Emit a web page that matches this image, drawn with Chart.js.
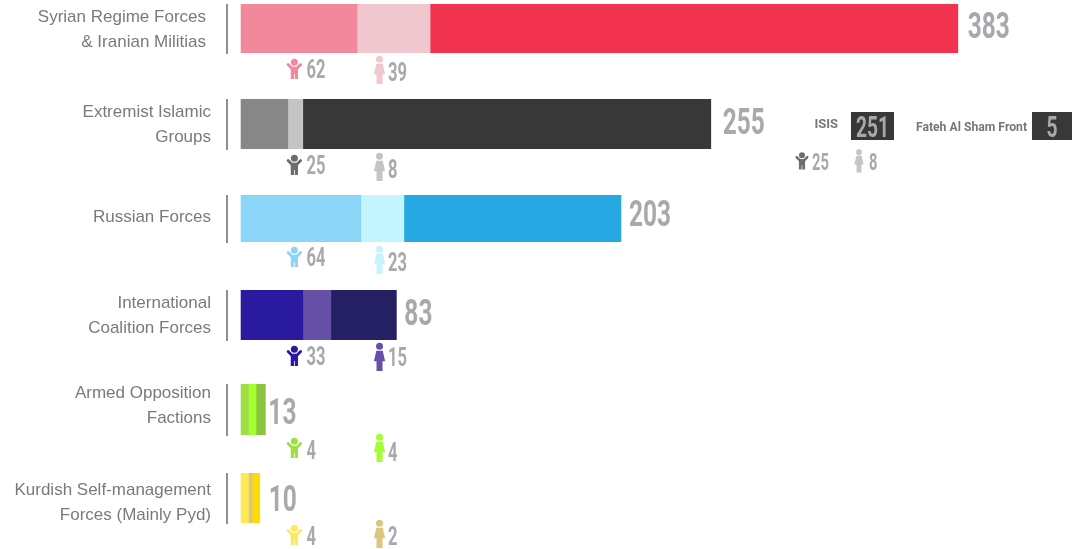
<!DOCTYPE html>
<html>
<head>
<meta charset="utf-8">
<script src="https://cdn.jsdelivr.net/npm/chart.js@4"></script>
<style>
    html, body { margin: 0; padding: 0; background: #fff; width: 1072px; height: 549px; overflow: hidden; }
    canvas { position: absolute; left: 0; display: block; }
</style>
</head>
<body>
<script>
// Data
const categories = [
    ['Syrian Regime Forces', '& Iranian Militias'],
    ['Extremist Islamic', 'Groups'],
    ['Russian Forces'],
    ['International', 'Coalition Forces'],
    ['Armed Opposition', 'Factions'],
    ['Kurdish Self-management', 'Forces (Mainly Pyd)']
];
const childCounts = [62, 25, 64, 33, 4, 4];
const femaleCounts = [39, 8, 23, 15, 4, 2];
const otherCounts = [282, 218, 116, 35, 5, 4];
const totals = [383, 255, 203, 83, 13, 10];
const breakdownNames = ['ISIS', 'Fateh Al Sham Front'];
const breakdownValues = [251, 5];

// Colours per row
const childColors = ['#f2889b', '#878787', '#8bd5f9', '#2a1aa0', '#9fdf45', '#ffea55'];
const femaleColors = ['#f0c6cf', '#c4c4c4', '#c4f5ff', '#6650a8', '#a3ff2d', '#dcc67f'];
const otherColors = ['#f1334f', '#383838', '#26a9e3', '#251f63', '#8cc43f', '#ffdc00'];
const childIconColors = ['#f2889b', '#6d6d6d', '#8bd5f9', '#2a1aa0', '#9fdf45', '#ffea55'];
const numberColor = '#a7a9ac';

// Layout per row
const rowTops = [4, 99, 195, 290, 384, 473];
const rowHeights = [49, 50, 47, 50, 51, 50];
const labelPads = [21, 16, 16, 16, 16, 16];
const labelShifts = [1, 1, -1, 1, -3.5, 4.5];
const totalGaps = [10, 12, 8, 8, 3, 9];
const totalShifts = [-3.5, -3, -5.5, -3, 1.5, 0];
// child icon, child number, female icon, female number: centre below the bar
const subDrops = [
    [16, 16, 17, 19],
    [16, 16, 18, 20],
    [15, 15, 18, 20],
    [16, 16, 17, 17],
    [13, 15, 13, 17],
    [12, 13, 11, 13]
];

function narrowText(ctx, text, x, cy, size, squeeze, color) {
    ctx.save();
    ctx.translate(x, cy);
    ctx.scale(squeeze, 1);
    ctx.font = `bold ${size}px Roboto`;
    ctx.fillStyle = color;
    ctx.textAlign = 'left';
    ctx.textBaseline = 'alphabetic';
    // digits are 0.71em tall
    ctx.fillText(text, 0, size * 0.355);
    ctx.restore();
}

function drawChild(ctx, cx, cy, color, s = 1) {
    ctx.save();
    ctx.translate(cx, cy);
    ctx.scale(s, s);
    ctx.fillStyle = color;
    ctx.strokeStyle = color;
    ctx.beginPath();
    ctx.arc(0, -6.8, 3.5, 0, Math.PI * 2);
    ctx.fill();
    ctx.lineWidth = 2.8;
    ctx.lineCap = 'round';
    ctx.lineJoin = 'round';
    ctx.beginPath();
    ctx.moveTo(-6.3, -4.6);
    ctx.lineTo(-2.6, -0.8);
    ctx.lineTo(2.6, -0.8);
    ctx.lineTo(6.3, -4.6);
    ctx.stroke();
    ctx.fillRect(-3.6, -2, 7.2, 7);
    ctx.fillRect(-3.6, 4, 3.2, 6);
    ctx.fillRect(0.4, 4, 3.2, 6);
    ctx.restore();
}

function drawFemale(ctx, cx, cy, color, s = 1) {
    ctx.save();
    ctx.translate(cx, cy);
    ctx.scale(s, s);
    ctx.fillStyle = color;
    ctx.beginPath();
    ctx.arc(0, -10.7, 3.5, 0, Math.PI * 2);
    ctx.fill();
    ctx.beginPath();
    ctx.moveTo(-3.2, -6.3);
    ctx.lineTo(3.2, -6.3);
    ctx.lineTo(5.6, 4.2);
    ctx.lineTo(3, 4.2);
    ctx.lineTo(3, 14);
    ctx.lineTo(-3, 14);
    ctx.lineTo(-3, 4.2);
    ctx.lineTo(-5.6, 4.2);
    ctx.closePath();
    ctx.fill();
    ctx.restore();
}

const rowLabels = {
    id: 'rowLabels',
    afterDraw(chart, args, opts) {
        const i = opts.row;
        const ctx = chart.ctx;
        const { bottom, top } = chart.chartArea;
        const x = chart.scales.x;
        const barEnd = x.getPixelForValue(i === 1 ? breakdownValues[0] : totals[i]);
        const d = subDrops[i];

        narrowText(ctx, String(totals[i]), barEnd + totalGaps[i], (top + bottom) / 2 + totalShifts[i], 37, 0.66, numberColor);

        drawChild(ctx, x.getPixelForValue(28.5), bottom + d[0], childIconColors[i]);
        narrowText(ctx, String(childCounts[i]), x.getPixelForValue(35), bottom + d[1], 25, 0.66, numberColor);
        drawFemale(ctx, x.getPixelForValue(74), bottom + d[2], femaleColors[i]);
        narrowText(ctx, String(femaleCounts[i]), x.getPixelForValue(78.5), bottom + d[3], 25, 0.66, numberColor);

        if (i === 1) {
            drawBreakdown(ctx, top);
        }
    }
};

// side note next to the extremist groups bar
function drawBreakdown(ctx, top) {
    const boxes = [[851, 43], [1032, 40]];
    const nameRight = [838, 1027];
    const nameSizes = [13, 12.2];
    breakdownNames.forEach((name, k) => {
        ctx.fillStyle = '#383838';
        ctx.fillRect(boxes[k][0], top + 13, boxes[k][1], 28);
        ctx.font = `bold ${nameSizes[k]}px Roboto`;
        ctx.fillStyle = '#77777a';
        ctx.textAlign = 'right';
        ctx.textBaseline = 'middle';
        ctx.fillText(name, nameRight[k], top + (k === 0 ? 26 : 29));
        const label = String(breakdownValues[k]);
        ctx.font = 'bold 30px Roboto';
        const w = ctx.measureText(label).width * 0.64;
        narrowText(ctx, label, boxes[k][0] + (boxes[k][1] - w) / 2, top + 27, 30, 0.64, numberColor);
    });
    drawChild(ctx, 802, top + 62, childIconColors[1], 0.85);
    narrowText(ctx, String(childCounts[1]), 812, top + 63, 23, 0.64, numberColor);
    drawFemale(ctx, 859, top + 62, femaleColors[1], 0.82);
    narrowText(ctx, String(femaleCounts[1]), 869, top + 63, 23, 0.64, numberColor);
}

categories.forEach((label, i) => {
    const canvas = document.createElement('canvas');
    canvas.width = 1072;
    canvas.height = rowHeights[i] + 90;
    canvas.style.top = rowTops[i] + 'px';
    document.body.appendChild(canvas);

    new Chart(canvas.getContext('2d'), {
        type: 'bar',
        plugins: [rowLabels],
        data: {
            labels: [label],
            datasets: [
                { data: [childCounts[i]], backgroundColor: childColors[i] },
                { data: [femaleCounts[i]], backgroundColor: femaleColors[i] },
                { data: [otherCounts[i]], backgroundColor: otherColors[i] }
            ]
        },
        options: {
            indexAxis: 'y',
            responsive: false,
            animation: false,
            layout: { padding: { top: 0, left: 0, right: 0, bottom: 90 } },
            datasets: { bar: { barPercentage: 1, categoryPercentage: 1, borderWidth: 0 } },
            scales: {
                x: { stacked: true, display: false, min: -7.5, max: 444 },
                y: {
                    stacked: true,
                    afterFit: scale => {
                        scale.width = 227;
                        // labels are taller than the short bars, keep them from shrinking the plot
                        scale.paddingTop = 0;
                        scale.paddingBottom = 0;
                    },
                    grid: { display: false, drawTicks: false },
                    border: { display: true, color: '#8e8e93', width: 2 },
                    ticks: {
                        padding: labelPads[i],
                        labelOffset: labelShifts[i],
                        color: '#7a7a7d',
                        font: { family: 'Liberation Sans', size: 17, lineHeight: 1.45 }
                    }
                }
            },
            plugins: { legend: { display: false }, tooltip: { enabled: false }, rowLabels: { row: i } }
        }
    });
});
</script>
</body>
</html>
